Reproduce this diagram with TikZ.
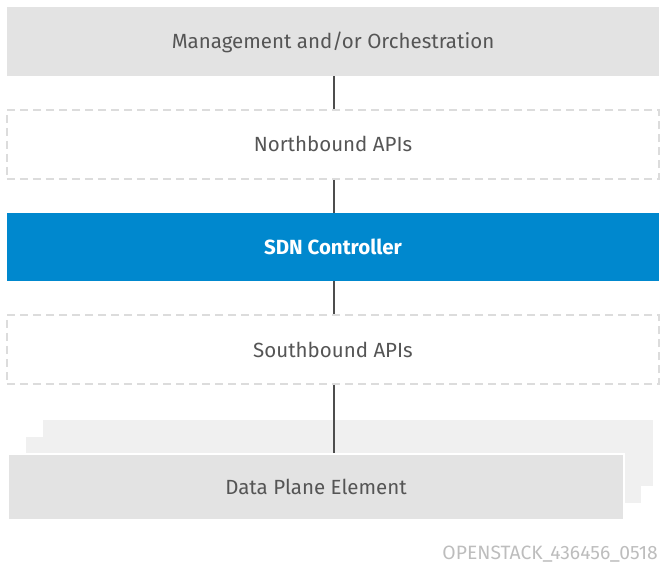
\documentclass[tikz,border=0pt]{standalone}
\usepackage{fontspec}
\setmainfont{Fira Sans}
\definecolor{boxgray}{HTML}{E3E3E3}
\definecolor{backgray}{HTML}{F0F0F0}
\definecolor{dashgray}{HTML}{DCDCDC}
\definecolor{sdnblue}{HTML}{0088CE}
\definecolor{txtgray}{HTML}{555555}
\definecolor{footgray}{HTML}{BDBDBD}
\definecolor{linegray}{HTML}{4D4D4D}
\tikzset{
  txtfont/.style={font=\fontsize{20.5bp}{24bp}\selectfont},
  base/.style={minimum width=652bp, minimum height=69bp, inner sep=0pt, text=txtgray, txtfont,
    text height=15bp, text depth=0bp},
  solidbox/.style={base, fill=boxgray},
  apibox/.style={base, draw=dashgray, line width=1.6bp, dash pattern=on 8bp off 5bp},
  sdnbox/.style={base, fill=sdnblue, text=white, font=\fontsize{20.5bp}{24bp}\selectfont\bfseries},
  stackbox/.style={minimum height=66bp, inner sep=0pt, fill=backgray},
  frontbox/.style={minimum width=616bp, minimum height=66bp, inner sep=0pt, fill=boxgray,
    draw=white, line width=2bp, text=txtgray, txtfont, text height=15bp, text depth=0bp},
  conn/.style={draw=linegray, line width=2bp}
}
\begin{document}
\begin{tikzpicture}[x=1bp,y=-1bp]
\useasboundingbox (0,0) rectangle (660,563);
\node[solidbox] (mgmt) at (333,41.5) {Management and/or Orchestration};
\node[apibox] (north) at (333,144.5) {Northbound APIs};
\node[sdnbox, minimum height=68bp] (sdn) at (333,247) {SDN Controller};
\node[apibox] (south) at (333,349.5) {Southbound APIs};
\node[stackbox, minimum width=610bp] (back) at (348,453) {};
\node[stackbox, minimum width=615bp] (mid) at (333.5,470) {};
\node[frontbox] (front) at (316,487) {Data Plane Element};
\coordinate (c1) at (334,0);
\draw[conn] (mgmt.south -| c1) -- (north.north -| c1);
\draw[conn] (north.south -| c1) -- (sdn.north -| c1);
\draw[conn] (sdn.south -| c1) -- (south.north -| c1);
\draw[conn] (south.south -| c1) -- (front.north -| c1);
\node[anchor=base east, text=footgray, inner sep=0pt,
  font=\fontsize{19.3bp}{22bp}\selectfont] (foot) at (658,559) {OPENSTACK\_436456\_0518};
\end{tikzpicture}
\end{document}
